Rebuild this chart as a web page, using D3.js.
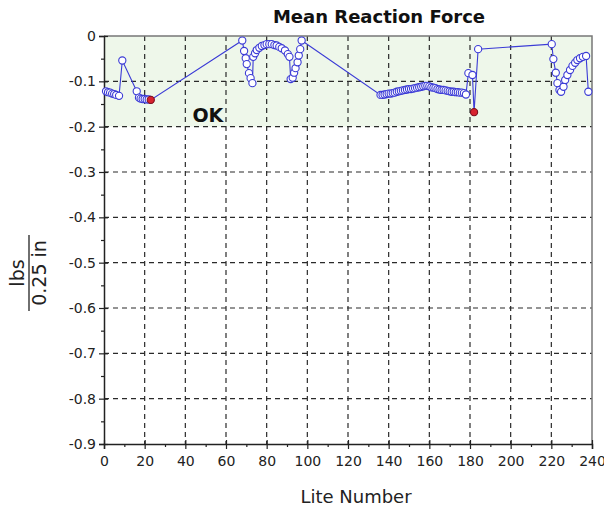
<!DOCTYPE html>
<html>
<head>
<meta charset="utf-8">
<script src="https://cdn.jsdelivr.net/npm/d3@7/dist/d3.min.js"></script>
<style>
  html, body { margin: 0; padding: 0; background: #fff; }
  svg { display: block; font-family: "DejaVu Sans", Verdana, sans-serif; }
</style>
</head>
<body>
<svg id="chart" width="604" height="508"></svg>
<script>
// ---- data ----
const liteNumber = [
  1, 2, 3, 4, 5, 6, 7.4, 9, 16.1, 17.2, 18, 19, 20, 21, 22, 23,
  68, 68.9, 69.7, 70.2, 71.3, 72.1, 73,
  73.4, 74.3, 75.1, 76.4, 77.6, 78.9, 80, 81.3, 82.5, 83.8, 84.9, 86.2, 87.4, 89, 90.4, 91.2,
  91.8, 92.8, 93.5, 94.2, 95.2, 95.8, 96.5, 97.2,
  136, 137, 138, 139, 140, 141, 142, 143, 144, 145, 146, 147, 148, 149, 150, 151, 152, 153, 154, 155,
  156, 157, 158, 159, 160, 161, 162, 163, 164, 165, 166, 167, 168, 169, 170, 171, 172, 173, 174, 175,
  176, 177, 178,
  179.2, 181.2, 182, 184, 220.2, 221, 222.2, 223, 224, 224.8, 226, 226.8, 227.9, 229.2, 230.4,
  231.7, 232.8, 234.1, 235.5, 237.1, 238.2
];
const meanForce = [
  -0.122, -0.124, -0.125, -0.127, -0.128, -0.130, -0.132, -0.054, -0.122, -0.136, -0.138, -0.139, -0.139, -0.140, -0.140, -0.141,
  -0.010, -0.033, -0.049, -0.062, -0.082, -0.093, -0.104,
  -0.046, -0.038, -0.031, -0.026, -0.022, -0.020, -0.018, -0.018, -0.018, -0.020, -0.021, -0.024, -0.027, -0.032, -0.040, -0.046,
  -0.095, -0.092, -0.081, -0.071, -0.058, -0.043, -0.029, -0.010,
  -0.130, -0.130, -0.129, -0.128, -0.127, -0.127, -0.126, -0.125, -0.123, -0.122, -0.121, -0.120, -0.119, -0.118, -0.117, -0.117, -0.116, -0.115, -0.114, -0.113,
  -0.112, -0.111, -0.110, -0.110, -0.111, -0.113, -0.114, -0.115, -0.117, -0.118, -0.119, -0.119, -0.120, -0.121, -0.122, -0.123, -0.123, -0.124, -0.124, -0.125,
  -0.125, -0.126, -0.129,
  -0.082, -0.086, -0.168, -0.029, -0.018, -0.051, -0.081, -0.104, -0.119, -0.123, -0.112, -0.097, -0.086, -0.075, -0.066,
  -0.059, -0.053, -0.049, -0.046, -0.044, -0.123
];
// highlighted (minimum) lites, drawn in red
const flaggedLites = [23, 182];

const xTicks = [0, 20, 40, 60, 80, 100, 120, 140, 160, 180, 200, 220, 240];
const xMinorTicks = [10, 30, 50, 70, 90, 110, 130, 150, 170, 190, 210, 230];
const yTicks = [0, -0.1, -0.2, -0.3, -0.4, -0.5, -0.6, -0.7, -0.8, -0.9];
const yMinorTicks = [-0.05, -0.15, -0.25, -0.35, -0.45, -0.55, -0.65, -0.75, -0.85];
const okBand = [0, -0.2];

const titleText = "Mean Reaction Force";
const xLabel = "Lite Number";
const yLabelNum = "lbs";
const yLabelDen = "0.25 in";
const bandLabel = "OK";

// ---- layout ----
const L = 104, R = 592, T = 36, B = 444;
const svg = d3.select("#chart");
const x = d3.scaleLinear().domain([0, 240]).range([L, R]);
const y = d3.scaleLinear().domain([-0.9, 0]).range([B, T]);

const points = liteNumber.map((v, i) => ({ x: v, y: meanForce[i] }));

// OK band
svg.append("rect")
  .attr("x", L).attr("width", R - L)
  .attr("y", y(okBand[0])).attr("height", y(okBand[1]) - y(okBand[0]))
  .attr("fill", "#eef7ea");

// grid
const grid = svg.append("g").attr("stroke", "#2a2a2a").attr("stroke-width", 1.2)
  .attr("stroke-dasharray", "5,4");
grid.selectAll("line.v").data(xTicks.slice(1, -1)).join("line")
  .attr("x1", d => x(d)).attr("x2", d => x(d)).attr("y1", T).attr("y2", B);
grid.selectAll("line.h").data(yTicks.slice(1, -1)).join("line")
  .attr("class", "h")
  .attr("y1", d => y(d)).attr("y2", d => y(d)).attr("x1", L).attr("x2", R);

// top/right border
svg.append("path")
  .attr("d", `M${L},${T}H${R}V${B}`)
  .attr("fill", "none").attr("stroke", "#777").attr("stroke-width", 1.5);

const fmt = d => d === 0 ? "0" : d.toFixed(1);

// y axis
const yAxis = svg.append("g").attr("transform", `translate(${L},0)`)
  .call(d3.axisLeft(y).tickValues(yTicks).tickFormat(fmt).tickSize(5).tickPadding(3));
const yMinor = svg.append("g").attr("transform", `translate(${L},0)`)
  .call(d3.axisLeft(y).tickValues(yMinorTicks).tickFormat("").tickSize(3));
yMinor.select(".domain").remove();
yAxis.selectAll(".tick").append("line").attr("x2", 4).attr("stroke", "#222");

// x axis
const xAxis = svg.append("g").attr("transform", `translate(0,${B})`)
  .call(d3.axisBottom(x).tickValues(xTicks).tickFormat(d => d).tickSize(5).tickPadding(7));
const xMinor = svg.append("g").attr("transform", `translate(0,${B})`)
  .call(d3.axisBottom(x).tickValues(xMinorTicks).tickFormat("").tickSize(3));
xMinor.select(".domain").remove();
xAxis.selectAll(".tick").append("line").attr("y2", -4).attr("stroke", "#222");

[yAxis, xAxis, yMinor, xMinor].forEach(g => {
  g.selectAll(".domain").attr("stroke", "#222").attr("stroke-width", 1.5);
  g.selectAll(".tick line").attr("stroke", "#222").attr("stroke-width", 1.2);
  g.selectAll(".tick text").attr("fill", "#222").style("font-size", "14px")
    .style("font-family", "DejaVu Sans, sans-serif");
});

// series line
const line = d3.line().x(d => x(d.x)).y(d => y(d.y));
svg.append("path").datum(points)
  .attr("d", line).attr("fill", "none")
  .attr("stroke", "#3b3bd6").attr("stroke-width", 1.1);

svg.append("g").selectAll("circle").data(points).join("circle")
  .attr("cx", d => x(d.x)).attr("cy", d => y(d.y)).attr("r", 3.6)
  .attr("fill", d => flaggedLites.includes(d.x) ? "#d8222e" : "#fff")
  .attr("stroke", d => flaggedLites.includes(d.x) ? "#7a1020" : "#3b3bd6")
  .attr("stroke-width", 1.1);

// band label
svg.append("text").attr("x", x(43.5)).attr("y", y(-0.19))
  .attr("font-size", 19).attr("font-weight", "bold").attr("fill", "#111")
  .text(bandLabel);

// title
svg.append("text").attr("x", 379).attr("y", 23).attr("text-anchor", "middle")
  .attr("font-size", 18).attr("font-weight", "bold").attr("fill", "#111")
  .text(titleText);

// x label
svg.append("text").attr("x", 356).attr("y", 503).attr("text-anchor", "middle")
  .attr("font-size", 18).attr("fill", "#222").text(xLabel);

// y label (fraction)
const yl = svg.append("g").attr("transform", "translate(29,273) rotate(-90)");
yl.append("text").attr("x", 0).attr("y", -5).attr("text-anchor", "middle")
  .attr("font-size", 19).attr("fill", "#222").text(yLabelNum);
yl.append("text").attr("x", 0).attr("y", 17).attr("text-anchor", "middle")
  .attr("font-size", 19).attr("fill", "#222").text(yLabelDen);
yl.append("line").attr("x1", -38).attr("x2", 38).attr("y1", 0).attr("y2", 0)
  .attr("stroke", "#222").attr("stroke-width", 1.3);
</script>
</body>
</html>
